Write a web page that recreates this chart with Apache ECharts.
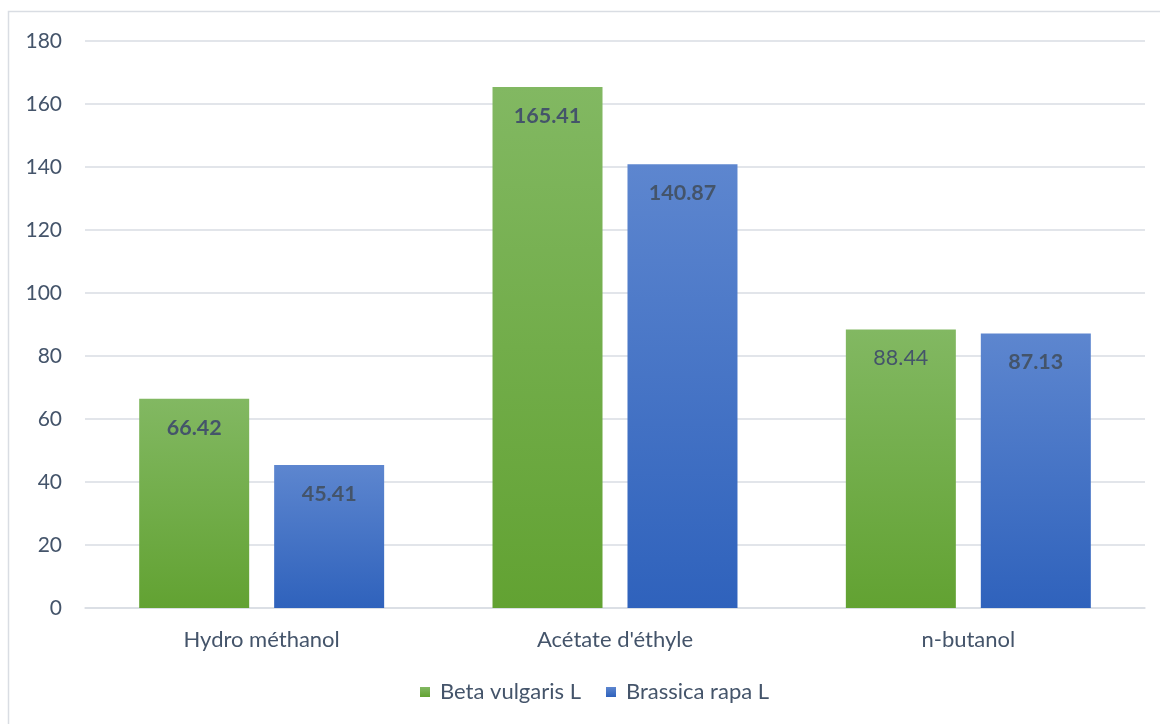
<!DOCTYPE html>
<html>
<head>
<meta charset="utf-8">
<script src="https://cdn.jsdelivr.net/npm/echarts@6/dist/echarts.min.js"></script>
<style>
  html, body { margin: 0; padding: 0; background: #ffffff; }
  #chart { width: 1160px; height: 724px; }
</style>
</head>
<body>
<div id="chart"></div>
<script>
// Extraction solvents and measured values per plant
const categories = ['Hydro méthanol', "Acétate d'éthyle", 'n-butanol'];
const seriesNames = ['Beta vulgaris L', 'Brassica rapa L'];
const betaVulgaris = [66.42, 165.41, 88.44];
const brassicaRapa = [45.41, 140.87, 87.13];
const yTicks = { min: 0, max: 180, step: 20 };

const textColor = '#44546a';
const gridColor = '#d9dde3';
const font = "Lato, 'Open Sans', sans-serif";

function vGrad(top, bottom) {
  return new echarts.graphic.LinearGradient(0, 0, 0, 1, [
    { offset: 0, color: top },
    { offset: 1, color: bottom }
  ]);
}

const greenFill = vGrad('#82b862', '#62a232');
const blueFill = vGrad('#5d86cf', '#2f62bc');

// The n-butanol label on the first series is drawn in regular weight
function labelFor(values, plainIdx) {
  return values.map((v, i) => ({
    value: v,
    label: { fontWeight: i === plainIdx ? 'normal' : 'bold' }
  }));
}

const valueLabel = {
  show: true,
  position: 'insideTop',
  distance: 18,
  color: textColor,
  fontSize: 21.5,
  fontFamily: font,
  formatter: p => p.value.toFixed(2)
};

const chart = echarts.init(document.getElementById('chart'), null, { renderer: 'canvas' });

chart.setOption({
  animation: false,
  backgroundColor: '#ffffff',
  graphic: [{
    type: 'rect',
    shape: { x: 8.5, y: 11.5, width: 1170, height: 730 },
    style: { fill: 'none', stroke: gridColor, lineWidth: 1.5 },
    silent: true
  }],
  grid: { left: 85, right: 15, top: 41, bottom: 116, containLabel: false },
  legend: {
    bottom: 21,
    left: 420,
    padding: 0,
    itemWidth: 10,
    itemHeight: 10,
    itemGap: 25,
    icon: 'rect',
    textStyle: { color: textColor, fontSize: 22, fontFamily: font, padding: [0, 0, 0, 5] },
    data: seriesNames
  },
  xAxis: {
    type: 'category',
    data: categories,
    axisLine: { lineStyle: { color: gridColor, width: 1.5 } },
    axisTick: { show: false },
    axisLabel: { color: textColor, fontSize: 22, fontFamily: font, margin: 21 }
  },
  yAxis: {
    type: 'value',
    min: yTicks.min,
    max: yTicks.max,
    interval: yTicks.step,
    axisLine: { show: false },
    axisTick: { show: false },
    axisLabel: { color: textColor, fontSize: 21, fontFamily: font, margin: 23 },
    splitLine: { lineStyle: { color: gridColor, width: 1.5 } }
  },
  series: [
    {
      name: seriesNames[0],
      type: 'bar',
      data: labelFor(betaVulgaris, 2),
      barWidth: 110,
      barGap: '22.7%',
      itemStyle: { color: greenFill },
      label: valueLabel
    },
    {
      name: seriesNames[1],
      type: 'bar',
      data: labelFor(brassicaRapa, -1),
      barWidth: 110,
      itemStyle: { color: blueFill },
      label: valueLabel
    }
  ]
});
</script>
</body>
</html>
